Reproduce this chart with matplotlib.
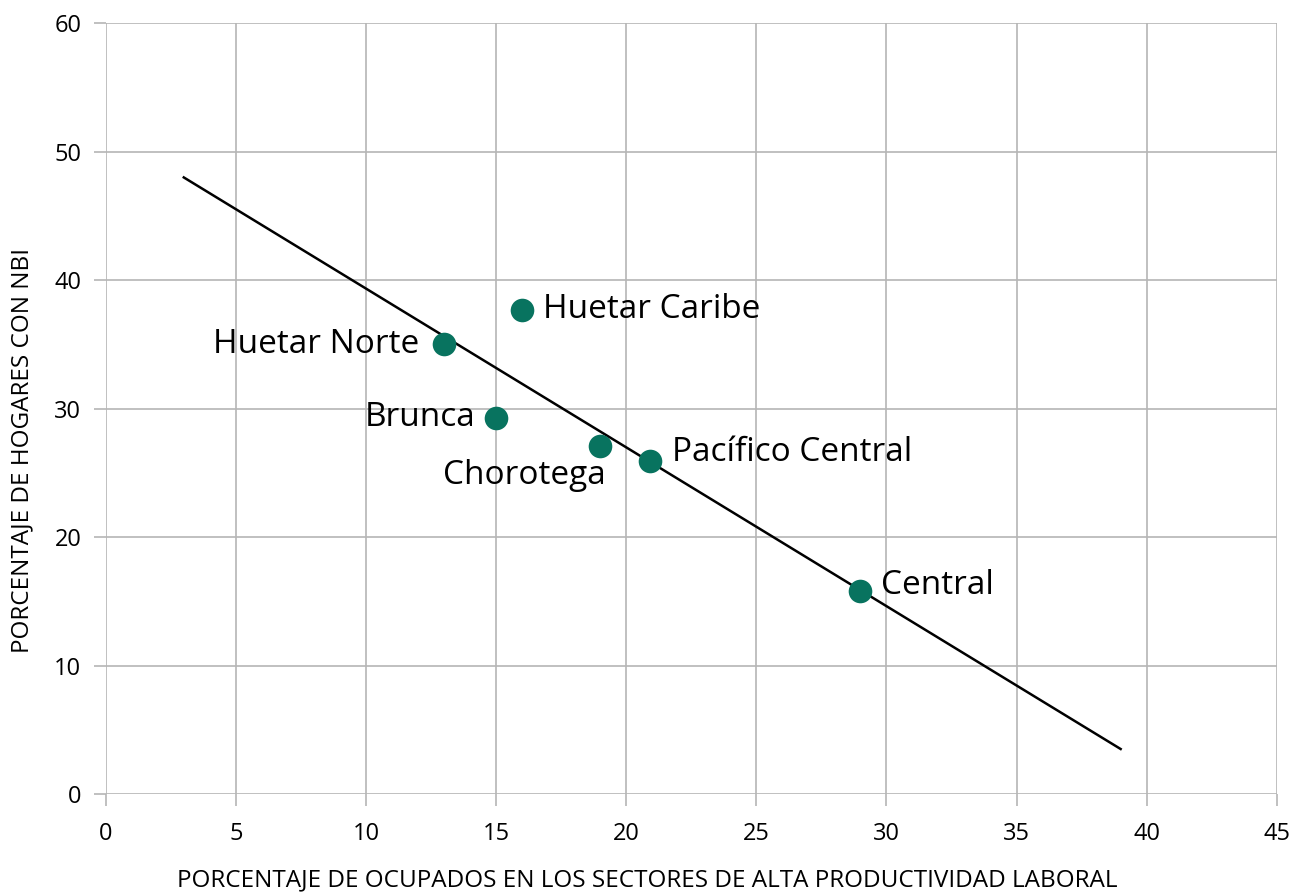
import matplotlib
matplotlib.use("Agg")
import matplotlib.pyplot as plt

plt.rcParams['font.family'] = ['Open Sans', 'DejaVu Sans']

# regions: % employed in high-productivity sectors vs % households with NBI
regions = ["Huetar Norte", "Huetar Caribe", "Brunca", "Chorotega", "Pacífico Central", "Central"]
ocupados = [13.0, 16.0, 15.0, 19.0, 20.9, 29.0]
hogares_nbi = [35.0, 37.7, 29.3, 27.1, 25.9, 15.8]

# trend line as drawn in the original
trend_x = [3.0, 39.0]
trend_y = [48.0, 3.5]

x_ticks = [0, 5, 10, 15, 20, 25, 30, 35, 40, 45]
y_ticks = [0, 10, 20, 30, 40, 50, 60]

# label offsets (points) and alignment for each region
label_pos = {
    "Huetar Norte": ((-18, 0), "right", "center"),
    "Huetar Caribe": ((15, 0), "left", "center"),
    "Brunca": ((-15, 0), "right", "center"),
    "Chorotega": ((4, -21), "right", "center"),
    "Pacífico Central": ((16, 6), "left", "center"),
    "Central": ((15, 4), "left", "center"),
}

green = "#08735f"
grid_c = "#b5b5b5"

fig = plt.figure(figsize=(12.94, 8.92), dpi=100)
ax = fig.add_axes([0.0817, 0.1099, 0.905, 0.864])

ax.plot(trend_x, trend_y, color="black", lw=1.8, zorder=2)
ax.plot(ocupados, hogares_nbi, "o", ms=17, color=green, mec="none", zorder=3)

for name, x, y in zip(regions, ocupados, hogares_nbi):
    off, ha, va = label_pos[name]
    ax.annotate(name, (x, y), xytext=off, textcoords="offset points",
                ha=ha, va=va, fontsize=24, color="black")

ax.set_xlim(0, 45)
ax.set_ylim(0, 60)
ax.set_xticks(x_ticks)
ax.set_yticks(y_ticks)
ax.grid(True, color=grid_c, lw=1.2)
ax.set_axisbelow(True)
for s in ax.spines.values():
    s.set_visible(False)
ax.tick_params(axis="both", color=grid_c, width=1.2, length=8.5, labelsize=17)
ax.tick_params(axis="x", pad=12)
ax.tick_params(axis="y", pad=9)

ax.set_xlabel("PORCENTAJE DE OCUPADOS EN LOS SECTORES DE ALTA PRODUCTIVIDAD LABORAL",
              fontsize=17.5)
ax.set_ylabel("PORCENTAJE DE HOGARES CON NBI", fontsize=17.5)
ax.xaxis.set_label_coords(0.462, -0.097)
ax.yaxis.set_label_coords(-0.061, 0.446)

fig.savefig("out.png", dpi=100)
